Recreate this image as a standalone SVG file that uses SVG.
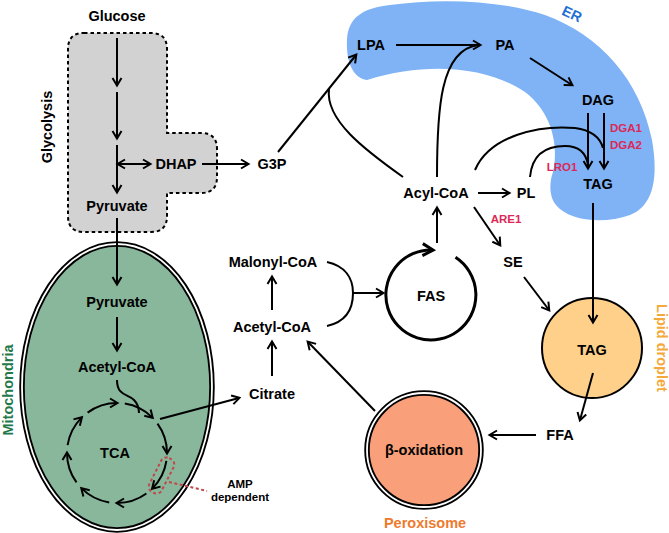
<svg xmlns="http://www.w3.org/2000/svg" width="669" height="533" viewBox="0 0 669 533">
<defs>
<marker id="ah" markerWidth="12" markerHeight="12" refX="9" refY="6" orient="auto" markerUnits="userSpaceOnUse"><path d="M2,1.5 L9.5,6 L2,10.5" fill="none" stroke="#000" stroke-width="2" stroke-linejoin="miter"/></marker>
<marker id="ahb" markerWidth="16" markerHeight="16" refX="12" refY="8" orient="auto" markerUnits="userSpaceOnUse"><path d="M2,2 L12.5,8 L2,14" fill="none" stroke="#000" stroke-width="3"/></marker>
<marker id="ahs" markerWidth="12" markerHeight="12" refX="9" refY="6" orient="auto-start-reverse" markerUnits="userSpaceOnUse"><path d="M2,1.5 L9.5,6 L2,10.5" fill="none" stroke="#000" stroke-width="2"/></marker>
</defs>
<style>
text{font-family:"Liberation Sans",Arial,sans-serif;font-weight:bold;text-anchor:middle;dominant-baseline:central}
.t{font-size:14.5px;fill:#000}
.r{font-size:11.5px;fill:#dc2858}
.s{font-size:11.5px;fill:#000}
.ln{fill:none;stroke:#000;stroke-width:2}
.ar{fill:none;stroke:#000;stroke-width:2;marker-end:url(#ah)}
</style>
<rect width="669" height="533" fill="#fff"/>

<g id="er">
<path d="M367 80 C352 78 346 60 347 40 C348 18 362 8 390 5 C440 -2 500 0 545 15 C600 35 640 80 652 140 C658 175 655 205 630 215 C605 224 570 222 556 205 C548 195 550 180 553 172 C558 150 555 115 525 92 C490 68 430 60 367 80 Z" fill="#7fb3f5"/>
<text x="572" y="14" class="t" fill="#1f6fd6" style="fill:#1f6fd6" transform="rotate(25 572 14)">ER</text>
</g>

<g id="glycolysis">
<path d="M84 33 H151 Q167 33 167 49 V133 H201 Q217 133 217 149 V177 Q217 193 201 193 H167 V216 Q167 232 151 232 H84 Q68 232 68 216 V49 Q68 33 84 33 Z" fill="#d2d2d2" stroke="#000" stroke-width="2" stroke-dasharray="3.5,3"/>
<text x="47" y="127" class="t" transform="rotate(-90 47 127)">Glycolysis</text>
</g>

<g id="mitochondria">
<ellipse cx="117" cy="387" rx="95" ry="143" fill="#88b79c" stroke="#000" stroke-width="5.5"/>
<ellipse cx="117" cy="387" rx="95" ry="143" fill="none" stroke="#fff" stroke-width="1.8"/>
<text x="8" y="390" class="t" style="fill:#23784a" transform="rotate(-90 8 390)">Mitochondria</text>
</g>

<g id="lipid-droplet">
<circle cx="592" cy="348" r="50" fill="#fed08a" stroke="#000" stroke-width="2"/>
<text x="592" y="350" class="t">TAG</text>
<text x="662" y="348" class="t" style="fill:#f4a93a" transform="rotate(90 662 348)">Lipid droplet</text>
</g>

<g id="peroxisome">
<circle cx="424" cy="450" r="57" fill="#f9a07b" stroke="#000" stroke-width="5.5"/>
<circle cx="424" cy="450" r="57" fill="none" stroke="#fff" stroke-width="1.8"/>
<text x="424" y="450" class="t">β-oxidation</text>
<text x="425" y="523" class="t" style="fill:#ee7a2e">Peroxisome</text>
</g>

<g id="fas">
<path d="M455.5 257.3 A45 45 0 1 1 432.6 250" fill="none" stroke="#000" stroke-width="3" marker-end="url(#ahb)"/>
<text x="431" y="296" class="t">FAS</text>
</g>

<g id="labels">
<text x="117" y="16" class="t">Glucose</text>
<text x="176" y="164" class="t">DHAP</text>
<text x="272" y="164" class="t">G3P</text>
<text x="117" y="206" class="t">Pyruvate</text>
<text x="117" y="302" class="t">Pyruvate</text>
<text x="117" y="367" class="t">Acetyl-CoA</text>
<text x="115" y="453" class="t">TCA</text>
<text x="240" y="484" class="s">AMP</text>
<text x="240" y="497" class="s">dependent</text>
<text x="273" y="262" class="t">Malonyl-CoA</text>
<text x="272" y="327" class="t">Acetyl-CoA</text>
<text x="272" y="394" class="t">Citrate</text>
<text x="436" y="193" class="t">Acyl-CoA</text>
<text x="526" y="193" class="t">PL</text>
<text x="506" y="219" class="r">ARE1</text>
<text x="513" y="262" class="t">SE</text>
<text x="371" y="45" class="t">LPA</text>
<text x="505" y="45" class="t">PA</text>
<text x="598" y="100" class="t">DAG</text>
<text x="598" y="184" class="t">TAG</text>
<text x="626" y="128" class="r">DGA1</text>
<text x="626" y="145" class="r">DGA2</text>
<text x="562" y="167" class="r">LRO1</text>
<text x="560" y="435" class="t">FFA</text>
</g>

<g id="connectors">
<!-- glycolysis -->
<line x1="117" y1="38" x2="117" y2="85" class="ar"/>
<line x1="117" y1="92" x2="117" y2="138" class="ar"/>
<line x1="117" y1="145" x2="117" y2="192" class="ar"/>
<line x1="118" y1="164" x2="150" y2="164" class="ln" marker-start="url(#ahs)" marker-end="url(#ah)"/>
<line x1="202" y1="164" x2="248" y2="164" class="ar"/>
<line x1="117" y1="218" x2="117" y2="284" class="ar"/>
<!-- mitochondria -->
<line x1="117" y1="317" x2="117" y2="350" class="ar"/>
<path d="M117 380 C117 396 128 394 134 400 C139 405 139 410 139 413" class="ln"/>
<path d="M87.6 412.6 A50 50 0 0 1 117 403" class="ar"/>
<path d="M124.8 403.6 A50 50 0 0 1 152.4 417.6" class="ar"/>
<path d="M157.5 423.6 A50 50 0 0 1 167 453" class="ar"/>
<path d="M166.4 460.8 A50 50 0 0 1 152.4 488.4" class="ar"/>
<path d="M146.4 493.5 A50 50 0 0 1 117 503" class="ar"/>
<path d="M109.2 502.4 A50 50 0 0 1 81.6 488.4" class="ar"/>
<path d="M76.5 482.4 A50 50 0 0 1 67 453" class="ar"/>
<path d="M67.6 445.2 A50 50 0 0 1 81.6 417.6" class="ar"/>
<rect x="154.5" y="456.5" width="14" height="38" rx="6" fill="none" stroke="#c0474a" stroke-width="2" stroke-dasharray="3,2.5" transform="rotate(27 161.5 475.5)"/>
<line x1="169" y1="482" x2="207" y2="491" stroke="#c0474a" stroke-width="2" stroke-dasharray="3,2.5"/>
<line x1="160" y1="419" x2="239" y2="398" class="ar"/>
<!-- cytosol -->
<line x1="272" y1="376" x2="272" y2="342" class="ar"/>
<line x1="272" y1="310" x2="272" y2="277" class="ar"/>
<path d="M327 262 C345 266 353 278 353 293 C353 310 345 322 327 326" class="ln"/>
<line x1="353" y1="293" x2="383" y2="293" class="ar"/>
<line x1="437" y1="243" x2="437" y2="208" class="ar"/>
<line x1="375" y1="411" x2="308" y2="342" class="ar"/>
<!-- ER -->
<line x1="278" y1="152" x2="356" y2="55" class="ar"/>
<path d="M403 177 C365 150 325 120 329 89" class="ln"/>
<line x1="396" y1="45" x2="480" y2="45" class="ar"/>
<path d="M437 177 C437 110 440 50 478 45" class="ln"/>
<line x1="530" y1="58" x2="572" y2="85" class="ar"/>
<line x1="588" y1="113" x2="588" y2="168" class="ar"/>
<line x1="604" y1="113" x2="604" y2="168" class="ar"/>
<path d="M475 170 C490 135 540 125 575 128 C590 130 600 137 603 148" class="ln"/>
<path d="M530 177 C532 155 545 146 565 146 C578 146 586 152 588 165" class="ln"/>
<line x1="478" y1="193" x2="509" y2="193" class="ar"/>
<line x1="474" y1="207" x2="500" y2="245" class="ar"/>
<line x1="524" y1="277" x2="549" y2="310" class="ar"/>
<line x1="593" y1="203" x2="593" y2="322" class="ar"/>
<line x1="593" y1="373" x2="580" y2="420" class="ar"/>
<line x1="536" y1="435" x2="490" y2="435" class="ar"/>
</g>
</svg>
